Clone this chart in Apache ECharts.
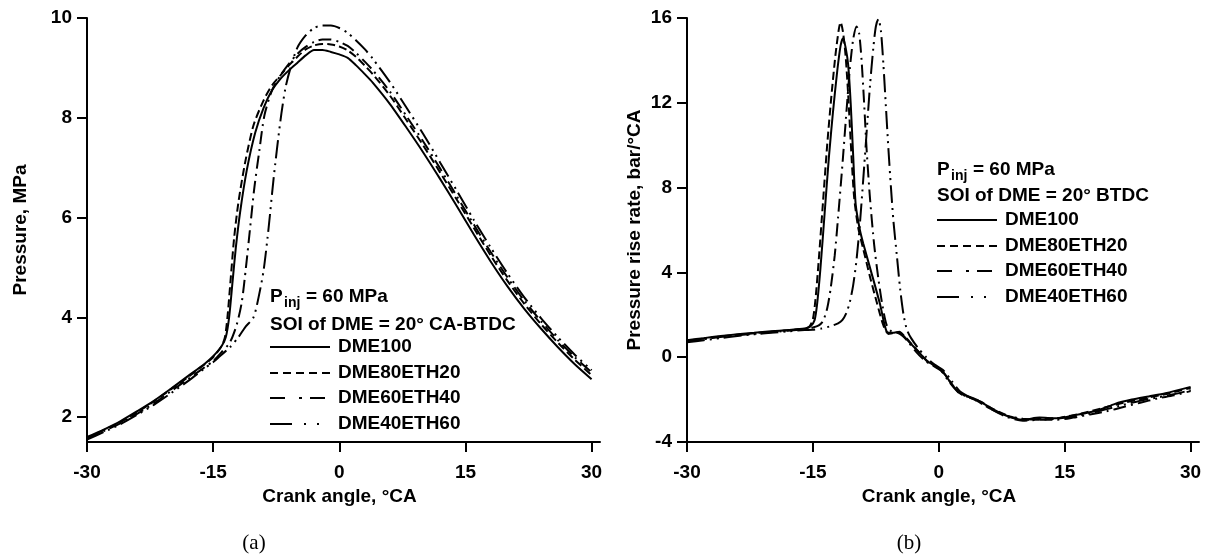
<!DOCTYPE html>
<html>
<head>
<meta charset="utf-8">
<script src="https://cdn.jsdelivr.net/npm/echarts@6/dist/echarts.min.js"></script>
<style>
html,body{margin:0;padding:0;background:#fff;}
#chart{width:1212px;height:560px;}
</style>
</head>
<body>
<div id="chart"></div>
<script>
// ---- Data ----
var seriesNames = ['DME100', 'DME80ETH20', 'DME60ETH40', 'DME40ETH60'];
var xTicks = [-30, -15, 0, 15, 30];
var pressureTicks = [2, 4, 6, 8, 10];
var rateTicks = [-4, 0, 4, 8, 12, 16];

// (a) Pressure, MPa vs crank angle
var pDME100 = [[-30,1.6],[-28,1.75],[-26,1.92],[-24,2.12],[-22,2.33],[-20,2.57],[-18,2.82],[-16,3.07],[-15,3.22],[-14,3.42],[-13.5,3.6],[-13.1,4.0],[-12.7,4.7],[-12.3,5.4],[-11.8,6.1],[-11,6.95],[-10,7.7],[-9,8.2],[-8,8.55],[-7,8.78],[-6,8.95],[-5,9.1],[-4,9.25],[-3,9.36],[-2,9.36],[-1,9.32],[0,9.27],[1,9.2],[2,9.05],[3,8.88],[4,8.7],[6,8.28],[8,7.8],[10,7.3],[12,6.77],[14,6.22],[16,5.66],[18,5.12],[20,4.62],[22,4.17],[24,3.77],[26,3.4],[28,3.06],[30,2.76]];
var pDME80ETH20 = [[-30,1.58],[-28,1.74],[-26,1.9],[-24,2.1],[-22,2.32],[-20,2.56],[-18,2.8],[-16,3.06],[-15,3.2],[-14,3.42],[-13.6,3.6],[-13.3,4.0],[-12.9,4.8],[-12.5,5.6],[-12,6.3],[-11.2,7.1],[-10.2,7.85],[-9,8.35],[-8,8.65],[-7,8.85],[-6,9.05],[-5,9.22],[-4,9.37],[-3,9.45],[-2,9.48],[-1,9.47],[0,9.43],[1,9.35],[2,9.22],[3,9.05],[4,8.87],[6,8.45],[8,7.95],[10,7.44],[12,6.9],[14,6.35],[16,5.79],[18,5.24],[20,4.73],[22,4.27],[24,3.86],[26,3.49],[28,3.15],[30,2.84]];
var pDME60ETH40 = [[-30,1.57],[-28,1.72],[-26,1.88],[-24,2.07],[-22,2.28],[-20,2.52],[-18,2.76],[-16,3.0],[-15,3.12],[-14,3.3],[-13,3.5],[-12.2,3.85],[-11.6,4.3],[-11.1,5.0],[-10.6,5.8],[-10.1,6.6],[-9.5,7.35],[-8.9,8.05],[-8,8.55],[-7,8.85],[-6,9.08],[-5,9.28],[-4,9.42],[-3,9.52],[-2,9.57],[-1,9.57],[0,9.52],[1,9.44],[2,9.3],[3,9.13],[4,8.95],[6,8.53],[8,8.03],[10,7.52],[12,6.98],[14,6.42],[16,5.86],[18,5.31],[20,4.8],[22,4.33],[24,3.92],[26,3.54],[28,3.2],[30,2.9]];
var pDME40ETH60 = [[-30,1.55],[-28,1.7],[-26,1.86],[-24,2.05],[-22,2.25],[-20,2.48],[-18,2.72],[-16,2.98],[-15,3.1],[-14,3.25],[-13,3.4],[-12,3.6],[-11.2,3.8],[-10.2,4.0],[-9.6,4.4],[-9,4.94],[-8.4,5.8],[-7.8,6.8],[-7,7.94],[-6.4,8.6],[-5.8,9.0],[-5,9.4],[-4,9.65],[-3,9.8],[-2,9.85],[-1,9.85],[0,9.8],[1,9.7],[2,9.55],[3,9.38],[4,9.18],[6,8.72],[8,8.2],[10,7.67],[12,7.1],[14,6.53],[16,5.95],[18,5.4],[20,4.88],[22,4.4],[24,3.98],[26,3.6],[28,3.25],[30,2.94]];

// (b) Pressure rise rate, bar/°CA vs crank angle
var rDME100 = [[-30,0.8],[-28,0.9],[-26,1.0],[-24,1.08],[-22,1.15],[-20,1.22],[-18,1.28],[-16,1.35],[-15.3,1.45],[-14.8,1.75],[-14.5,2.5],[-14.1,4.2],[-13.6,6.8],[-13.1,9.4],[-12.6,11.6],[-12.1,13.5],[-11.7,14.7],[-11.4,15.05],[-11.1,14.6],[-10.8,13.8],[-10.5,12.0],[-10.2,9.5],[-9.9,7.2],[-9.4,6.0],[-9.0,5.36],[-7.9,3.8],[-7.0,2.5],[-6.2,1.2],[-5.5,1.15],[-4.7,1.2],[-4.2,1.0],[-3.5,0.7],[-2.5,0.3],[-1.5,-0.15],[-0.5,-0.4],[0.5,-0.7],[1.5,-1.25],[2.5,-1.7],[3.5,-1.85],[4.5,-2.0],[6,-2.35],[8,-2.75],[10,-2.95],[12,-2.85],[14,-2.88],[16,-2.75],[19,-2.5],[21,-2.2],[23,-2.0],[25,-1.85],[27,-1.7],[30,-1.4]];
var rDME80ETH20 = [[-30,0.78],[-28,0.88],[-26,0.98],[-24,1.06],[-22,1.13],[-20,1.2],[-18,1.27],[-16,1.34],[-15.4,1.45],[-15.0,1.8],[-14.7,2.7],[-14.3,4.6],[-13.8,7.3],[-13.3,10.0],[-12.8,12.3],[-12.3,14.3],[-11.9,15.5],[-11.7,15.8],[-11.4,15.3],[-11.1,14.2],[-10.8,12.4],[-10.5,10.2],[-10.1,7.6],[-9.6,6.1],[-9.0,5.1],[-8.2,3.8],[-7.4,2.6],[-6.6,1.5],[-6.0,1.1],[-5.3,1.15],[-4.6,1.15],[-4.0,0.95],[-3.3,0.65],[-2.3,0.2],[-1.3,-0.2],[-0.3,-0.45],[0.7,-0.8],[1.7,-1.35],[2.7,-1.75],[3.7,-1.9],[5,-2.1],[6.5,-2.45],[8.5,-2.8],[10.5,-2.95],[12.5,-2.9],[14.5,-2.85],[17,-2.65],[19.5,-2.4],[22,-2.15],[25,-1.9],[27.5,-1.7],[30,-1.45]];
var rDME60ETH40 = [[-30,0.75],[-28,0.85],[-26,0.95],[-24,1.03],[-22,1.1],[-20,1.18],[-18,1.25],[-16,1.32],[-15,1.4],[-14.3,1.5],[-13.8,1.7],[-13.3,2.3],[-12.9,3.2],[-12.4,4.8],[-12.0,6.6],[-11.5,9.0],[-11.0,11.6],[-10.6,13.6],[-10.2,15.0],[-9.8,15.6],[-9.5,15.3],[-9.2,14.0],[-8.9,12.0],[-8.6,9.8],[-8.2,7.5],[-7.7,5.3],[-7.2,3.7],[-6.7,2.4],[-6.2,1.5],[-5.6,1.2],[-4.9,1.15],[-4.3,1.0],[-3.6,0.7],[-2.7,0.25],[-1.7,-0.15],[-0.7,-0.4],[0.3,-0.65],[1.3,-1.2],[2.3,-1.65],[3.3,-1.85],[4.5,-2.05],[6,-2.4],[8,-2.8],[10,-3.0],[12,-2.95],[14,-2.95],[16,-2.85],[18,-2.7],[20,-2.55],[22,-2.35],[24,-2.15],[26,-1.95],[28,-1.8],[30,-1.6]];
var rDME40ETH60 = [[-30,0.7],[-28,0.8],[-26,0.9],[-24,1.0],[-22,1.08],[-20,1.15],[-18,1.22],[-16,1.28],[-15,1.3],[-14,1.35],[-13,1.45],[-12,1.6],[-11.5,1.75],[-11,2.1],[-10.6,2.6],[-10.2,3.4],[-9.8,4.6],[-9.4,6.3],[-9.0,8.4],[-8.6,10.6],[-8.2,12.8],[-7.8,14.6],[-7.5,15.6],[-7.2,15.95],[-6.9,15.4],[-6.6,13.8],[-6.3,11.8],[-6.0,9.8],[-5.7,8.0],[-5.4,6.4],[-5.0,4.8],[-4.6,3.2],[-4.2,2.0],[-3.8,1.3],[-3.3,0.9],[-2.5,0.45],[-1.5,0.0],[-0.5,-0.35],[0.5,-0.6],[1.5,-1.1],[2.5,-1.6],[3.5,-1.85],[4.5,-2.05],[6,-2.4],[8,-2.75],[10,-2.9],[12,-2.95],[14,-2.9],[16,-2.8],[18,-2.65],[20,-2.45],[22,-2.25],[24,-2.05],[26,-1.9],[28,-1.75],[30,-1.55]];

// ---- Styles ----
var plotDash = ['solid', [8, 4], [13, 5, 2, 5], [18, 5, 2, 5, 2, 5]];
var keyDash = [null, [8, 5], [15, 14, 3, 8], [22, 12, 2, 11, 2, 11]];
var FONT = '"Liberation Sans", Arial, sans-serif';
var SERIF = '"Liberation Serif", "Times New Roman", serif';
var FS = 19;
var lblStyle = {color: '#000', fontFamily: FONT, fontWeight: 'bold', fontSize: FS};

function xAxisDef(gi) {
  return {
    type: 'value', gridIndex: gi, min: -30, max: 31,
    name: 'Crank angle, °CA', nameLocation: 'middle', nameGap: 45,
    nameTextStyle: {color: '#000', fontFamily: FONT, fontWeight: 'bold', fontSize: FS, padding: [0, 8, 0, 0]},
    axisLine: {onZero: false, lineStyle: {color: '#000', width: 2}},
    axisTick: {show: true, length: 10, inside: false, customValues: xTicks, lineStyle: {color: '#000', width: 2}},
    axisLabel: Object.assign({margin: 21, customValues: xTicks}, lblStyle),
    splitLine: {show: false}
  };
}
function yAxisDef(gi, min, max, ticks, name, gap) {
  return {
    type: 'value', gridIndex: gi, min: min, max: max,
    name: name, nameLocation: 'middle', nameGap: gap,
    nameTextStyle: {color: '#000', fontFamily: FONT, fontWeight: 'bold', fontSize: FS},
    axisLine: {show: true, onZero: false, lineStyle: {color: '#000', width: 2}},
    axisTick: {show: true, length: 10, inside: false, customValues: ticks, lineStyle: {color: '#000', width: 2}},
    axisLabel: Object.assign({margin: 15, customValues: ticks}, lblStyle),
    splitLine: {show: false}
  };
}

var leftData = [pDME100, pDME80ETH20, pDME60ETH40, pDME40ETH60];
var rightData = [rDME100, rDME80ETH20, rDME60ETH40, rDME40ETH60];
var series = [];
[leftData, rightData].forEach(function (set, gi) {
  set.forEach(function (d, i) {
    series.push({
      name: seriesNames[i], type: 'line', xAxisIndex: gi, yAxisIndex: gi,
      data: d, showSymbol: false, symbol: 'none', smooth: 0.25,
      lineStyle: {color: '#000', width: 2, type: plotDash[i]},
      itemStyle: {color: '#000'}, animation: false, z: 3
    });
  });
});

// key (legend) drawn as graphic text + sample lines
function keyBlock(x, yP, ySoi, rows, line2) {
  var g = [
    {type: 'text', x: x, y: yP, style: {text: 'P', fill: '#000', font: 'bold ' + FS + 'px ' + FONT, textVerticalAlign: 'middle'}},
    {type: 'text', x: x + 14, y: yP + 6, style: {text: 'inj', fill: '#000', font: 'bold 14px ' + FONT, textVerticalAlign: 'middle'}},
    {type: 'text', x: x + 36, y: yP, style: {text: '= 60 MPa', fill: '#000', font: 'bold ' + FS + 'px ' + FONT, textVerticalAlign: 'middle'}},
    {type: 'text', x: x, y: ySoi, style: {text: line2, fill: '#000', font: 'bold ' + FS + 'px ' + FONT, textVerticalAlign: 'middle'}}
  ];
  rows.forEach(function (y, i) {
    var st = {stroke: '#000', lineWidth: 2};
    if (keyDash[i]) st.lineDash = keyDash[i];
    g.push({type: 'line', shape: {x1: x, y1: y, x2: x + 60, y2: y}, style: st});
    g.push({type: 'text', x: x + 68, y: y, style: {text: seriesNames[i], fill: '#000', font: 'bold ' + FS + 'px ' + FONT, textVerticalAlign: 'middle'}});
  });
  return g;
}

var chart = echarts.init(document.getElementById('chart'), null, {renderer: 'canvas'});
chart.setOption({
  backgroundColor: '#fff',
  animation: false,
  grid: [
    {left: 87, top: 18, width: 513, height: 424, containLabel: false},
    {left: 687, top: 18, width: 512, height: 424, containLabel: false}
  ],
  xAxis: [xAxisDef(0), xAxisDef(1)],
  yAxis: [
    yAxisDef(0, 1.5, 10, pressureTicks, 'Pressure, MPa', 57),
    yAxisDef(1, -4, 16, rateTicks, 'Pressure rise rate, bar/°CA', 43)
  ],
  series: series,
  graphic: [].concat(
    keyBlock(270, 297, 325, [347, 373, 398, 424], 'SOI of DME = 20° CA-BTDC'),
    keyBlock(937, 170, 196, [220, 246, 271, 297], 'SOI of DME = 20° BTDC'),
    [
      {type: 'text', x: 254, y: 543, style: {text: '(a)', fill: '#000', font: '21px ' + SERIF, textAlign: 'center', textVerticalAlign: 'middle'}},
      {type: 'text', x: 909, y: 543, style: {text: '(b)', fill: '#000', font: '21px ' + SERIF, textAlign: 'center', textVerticalAlign: 'middle'}}
    ]
  )
});
</script>
</body>
</html>
